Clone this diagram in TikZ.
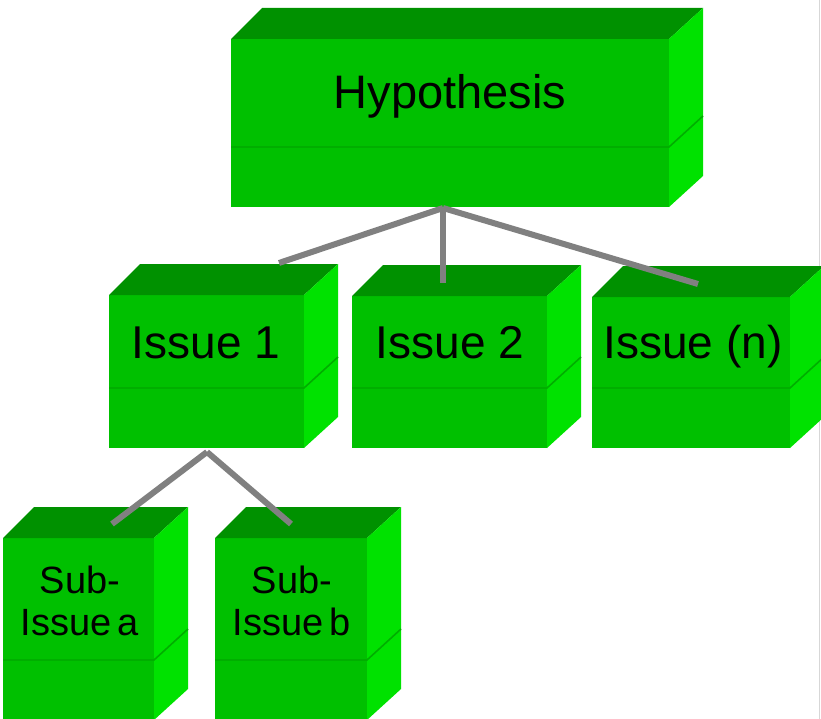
\documentclass[tikz,border=0pt]{standalone}
\usepackage{fontspec}
\setmainfont{Liberation Sans}

\definecolor{topgreen}{RGB}{0,145,0}
\definecolor{frontgreen}{RGB}{0,192,0}
\definecolor{sidegreen}{RGB}{0,226,0}
\definecolor{seamgreen}{RGB}{0,174,0}
\definecolor{linkgray}{RGB}{128,128,128}
\definecolor{framegray}{RGB}{215,215,215}

\tikzset{
  frontface/.style={rectangle, fill=frontgreen, draw=none, inner sep=0pt, outer sep=0pt, anchor=north west},
  topface/.style={fill=topgreen},
  sideface/.style={fill=sidegreen},
  seam/.style={draw=seamgreen, line width=1.6pt},
  link/.style={draw=linkgray, line width=6pt, line cap=butt},
  biglabel/.style={anchor=base, inner sep=0pt, font=\fontsize{47}{52}\selectfont},
  midlabel/.style={anchor=base, inner sep=0pt, font=\fontsize{46}{52}\selectfont},
  smalllabel/.style={anchor=base, inner sep=0pt, align=center, font=\fontsize{38}{42}\selectfont},
}

% A two-tier green block: name, left, right, top, bottom, seam height
\newcommand\greenblock[6]{%
  \node[frontface, minimum width={(#3-#2)*1pt}, minimum height={(#5-#4)*1pt}] (#1) at (#2,#4) {};
  \fill[topface] (#1.north west) -- ++(31,-31) -- ([shift={(34,-31)}]#1.north east) -- (#1.north east) -- cycle;
  \fill[sideface] (#1.north east) -- ++(34,-31) -- ([shift={(34,-31)}]#1.south east) -- (#1.south east) -- cycle;
  \draw[seam] (#2,#6) -- (#3,#6) -- ++(34,-31);
}

\begin{document}
\begin{tikzpicture}[x=1pt, y=-1pt]
  \useasboundingbox (0,0) rectangle (821,719);
  \fill[white] (0,0) rectangle (821,719);
  \draw[framegray, line width=1.2pt] (819.5,0) -- (819.5,719);

  % blocks
  \greenblock{hyp}{231}{669}{39}{207}{147}
  \greenblock{issA}{109}{304}{295}{448}{388}
  \greenblock{issB}{352}{547}{296}{448}{388}
  \greenblock{issN}{592}{790}{297}{448}{388}
  \greenblock{subA}{3}{154}{538}{720}{660}
  \greenblock{subB}{215}{367}{538}{720}{660}

  % labels (two-line labels are anchored on the baseline of their last line)
  \node[biglabel] (hyptext) at (450,109) {Hypothesis};
  \node[midlabel] (issAtext) at (206,358) {Issue 1};
  \node[midlabel] (issBtext) at (450,358) {Issue 2};
  \node[midlabel] (issNtext) at (693,358) {Issue (n)};
  \node[smalllabel] (subAtext) at (80,635) {Sub-\\Issue\hspace{0.16em}a};
  \node[smalllabel] (subBtext) at (292,635) {Sub-\\Issue\hspace{0.16em}b};

  % connector ends
  \coordinate (hypjoin) at (443,208);
  \coordinate (issAtop) at (279,263);
  \coordinate (issBtop) at (443,283);
  \coordinate (issNtop) at (698,284);
  \coordinate (issAjoin) at (207,452);
  \coordinate (subAtop) at (112,524);
  \coordinate (subBtop) at (291,524);

  % connectors
  \draw[link] (hypjoin) -- (issAtop);
  \draw[link] (hypjoin) -- (issBtop);
  \draw[link] (hypjoin) -- (issNtop);
  \draw[link] (issAjoin) -- (subAtop);
  \draw[link] (issAjoin) -- (subBtop);
\end{tikzpicture}
\end{document}
